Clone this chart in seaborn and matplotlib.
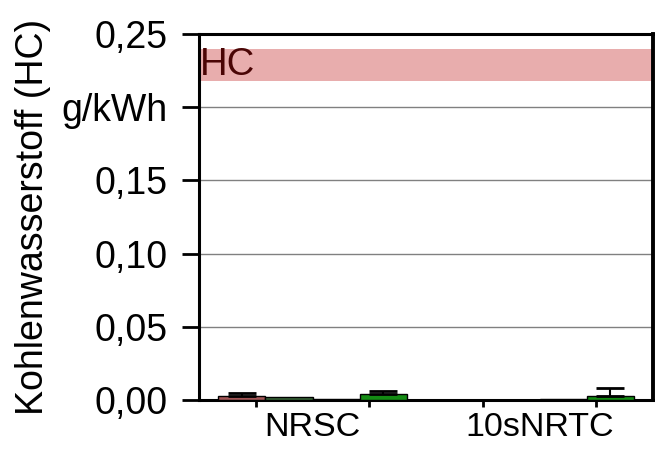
import matplotlib
matplotlib.use("Agg")
import matplotlib.pyplot as plt
import seaborn as sns
import pandas as pd
import numpy as np

categories = ["NRSC", "10sNRTC"]
series = ["S1", "S2", "S3", "S4"]
values_s1 = [0.003, 0.0]
values_s2 = [0.002, 0.0]
values_s3 = [0.0005, 0.001]
values_s4 = [0.004, 0.003]
errors_s4 = [0.002, 0.005]
errors_s1 = [0.002, 0.0]
colors = ["#b0494a", "#2f6b2f", "#8b0000", "#00a000"]
yticks = [0.00, 0.05, 0.10, 0.15, 0.20, 0.25]
yticklabels = ["0,00", "0,05", "0,10", "0,15", "g/kWh", "0,25"]
limit_low, limit_high = 0.218, 0.240

sns.set_style("white")
plt.rcParams["font.family"] = ["Liberation Sans", "DejaVu Sans"]
plt.rcParams["text.color"] = "black"
plt.rcParams["axes.labelcolor"] = "black"
plt.rcParams["xtick.color"] = "black"
plt.rcParams["ytick.color"] = "black"

rows = []
vals = [values_s1, values_s2, values_s3, values_s4]
for s, v in zip(series, vals):
    for c, y in zip(categories, v):
        rows.append({"Zyklus": c, "Serie": s, "HC": y})
df = pd.DataFrame(rows)

fig = plt.figure(figsize=(6.55, 4.55), dpi=100)
ax = fig.add_axes([0.3038, 0.1209, 0.9970 - 0.3038, 0.9253 - 0.1209])

ax.axhspan(limit_low, limit_high, color="#e8adad", zorder=0, lw=0)
ax.text(0.003, (limit_low + limit_high) / 2, "HC", transform=ax.get_yaxis_transform(),
        fontsize=27.5, color="#4a0505", va="center", ha="left", zorder=1)

sns.barplot(data=df, x="Zyklus", y="HC", hue="Serie", palette=colors,
            order=categories, hue_order=series, errorbar=None, width=0.83,
            edgecolor="black", linewidth=1.0, legend=False, ax=ax, zorder=3)

err_map = {"S1": errors_s1, "S4": errors_s4}
for cont, s in zip(ax.containers, series):
    if s not in err_map:
        continue
    xs = [p.get_x() + p.get_width() / 2 for p in cont.patches]
    hs = [p.get_height() for p in cont.patches]
    ax.errorbar(xs, hs, yerr=[np.zeros(len(hs)), err_map[s]], fmt="none",
                ecolor="black", elinewidth=1.5, capsize=10, capthick=2, zorder=4)

ax.set_xlim(-0.5, 1.5)
ax.set_ylim(0, 0.25)
ax.set_yticks(yticks)
ax.set_yticklabels(yticklabels, fontsize=27)
ax.set_xticks([0, 1])
ax.set_xticklabels(categories, fontsize=24.5)
ax.set_xticks([-0.25, 0.25, 0.75, 1.25], minor=True)
ax.tick_params(axis="x", which="major", length=0, pad=9)
ax.tick_params(axis="x", which="minor", length=5, width=2, direction="out", bottom=True)
ax.tick_params(axis="y", which="major", length=12.5, width=2, direction="out", pad=10, left=True)
ax.set_xlabel("")
ax.set_ylabel("Kohlenwasserstoff (HC)", fontsize=27, labelpad=8)

for y in [0.05, 0.10, 0.15, 0.20]:
    ax.axhline(y, color="#808080", lw=1.0, zorder=1)

for side in ["left", "bottom", "top"]:
    ax.spines[side].set_visible(True)
    ax.spines[side].set_color("black")
    ax.spines[side].set_linewidth(2.2)
ax.spines["right"].set_visible(True)
ax.spines["right"].set_color("black")
ax.spines["right"].set_linewidth(2.8)

fig.savefig("out.png", dpi=100)
